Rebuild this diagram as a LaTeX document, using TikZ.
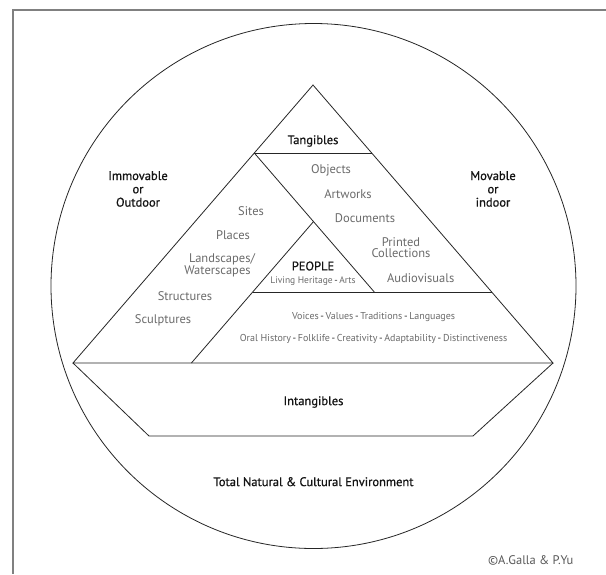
\documentclass[tikz,border=0pt]{standalone}
\usepackage{fontspec}
\setmainfont{PT Sans}
\newfontfamily\medfont{PT Sans}[FakeBold=0.8]
\newcommand{\dsh}{{\color{black!85}\,-\,}}
\begin{document}
\begin{tikzpicture}[x=1pt,y=-1pt,
  ln/.style={draw=black!85, line width=0.8pt, line join=miter},
  item/.style={text=black!58, font=\fontsize{12.5}{13}\selectfont, inner sep=0pt, align=center},
  head/.style={text=black!92, font=\medfont\fontsize{12.5}{13.3}\selectfont, inner sep=0pt, align=center},
  small/.style={text=black!58, font=\fontsize{10}{11}\selectfont, inner sep=0pt}]
\useasboundingbox (0,0) rectangle (606,574);
\fill[white] (0,0) rectangle (606,574);
\draw[black!50, line width=1.2pt] (606,10) -- (13,10) -- (13,574);
% environment circle
\node[circle, draw=black!85, line width=0.8pt, minimum size=525pt, inner sep=0pt] (env) at (313.5,286) {};
% geometry
\coordinate (A) at (313,85);
\coordinate (L) at (73,363);
\coordinate (R) at (553,363);
\coordinate (TL) at (254.3,153);
\coordinate (TR) at (371.7,153);
\coordinate (PL) at (252.7,292);
\coordinate (PR) at (374.3,292);
\coordinate (PA) at (313.5,221.6);
\coordinate (HR) at (491.7,292);
\coordinate (B0) at (191.4,363);
\coordinate (IL) at (149,436);
\coordinate (IR) at (473,436);
\draw[ln] (A) -- (L) -- (R) -- cycle;
\draw[ln] (TL) -- (TR);
\draw[ln] (TL) -- (PA) -- (PR);
\draw[ln] (B0) -- (PL) -- (PA);
\draw[ln] (PL) -- (HR);
\draw[ln] (L) -- (IL) -- (IR) -- (R);
% labels
\node[head] (tang) at (313,141) {Tangibles};
\node[head] (immov) at (138,189) {Immovable\\or\\Outdoor};
\node[head] (mov) at (493,189) {Movable\\or\\indoor};
\node[item] (sites) at (251,211) {Sites};
\node[item] (places) at (233,235) {Places};
\node[item] (land) at (222,259.5) {Landscapes/};
\node[item] (water) at (217.5,271.5) {Waterscapes};
\node[item] (struct) at (185,296) {Structures};
\node[item] (sculpt) at (163,320) {Sculptures};
\node[item] (obj) at (331,170) {Objects};
\node[item] (art) at (348,194) {Artworks};
\node[item] (doc) at (365,218) {Documents};
\node[item, font=\fontsize{12.5}{11.6}\selectfont] (print) at (401,247.5) {Printed\\Collections};
\node[item] (audio) at (420.7,278) {Audiovisuals};
\node[head] (people) at (313,266) {PEOPLE};
\node[small, font=\fontsize{9.5}{10}\selectfont] (living) at (313,281) {Living Heritage\dsh Arts};
\node[small] (voices) at (373.6,317) {Voices\dsh Values\dsh Traditions\dsh Languages};
\node[small] (oral) at (373.6,339) {Oral History\dsh Folklife\dsh Creativity\dsh Adaptability\dsh Distinctiveness};
\node[head] (intang) at (313.5,402) {Intangibles};
\node[head] (total) at (313.5,481.7) {Total Natural \& Cultural Environment};
\node[item, text=black!65] (copy) at (530.7,560) {©A.Galla \& P.Yu};
\end{tikzpicture}
\end{document}
